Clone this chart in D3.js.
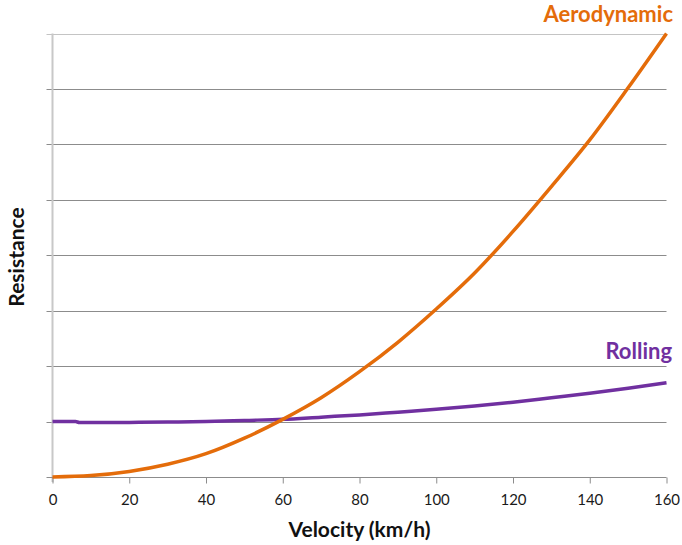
<!DOCTYPE html>
<html>
<head>
<meta charset="utf-8">
<script src="https://cdn.jsdelivr.net/npm/d3@7"></script>
<style>
  body { margin: 0; background: #fff; }
  svg { font-family: Lato, "Open Sans", sans-serif; }
</style>
</head>
<body>
<div id="chart-container"></div>
<script>
// velocity in km/h, resistance in arbitrary units (8 grid steps)
const velocity = [0, 10, 20, 30, 40, 50, 60, 70, 80, 90, 100, 110, 120, 130, 140, 150, 160];
const aerodynamic = [0, 0.025, 0.1, 0.23, 0.42, 0.7, 1.04, 1.43, 1.9, 2.43, 3.03, 3.68, 4.43, 5.24, 6.08, 7.02, 8.0];
const rollingVelocity = [0, 6, 7, 20, 30, 40, 50, 60, 70, 80, 90, 100, 110, 120, 130, 140, 150, 160];
const rolling = [1.0, 1.0, 0.985, 0.985, 0.99, 1.0, 1.02, 1.04, 1.08, 1.12, 1.17, 1.22, 1.28, 1.35, 1.43, 1.51, 1.6, 1.7];
const xTicks = [0, 20, 40, 60, 80, 100, 120, 140, 160];
const yTicks = [0, 1, 2, 3, 4, 5, 6, 7, 8];

const w = 682;
const h = 545;
const padLeft = 52.5, padRight = 666.5, padTop = 33.5, padBottom = 477;

const svg = d3
  .select("#chart-container")
  .append("svg")
  .attr("width", w)
  .attr("height", h);

const xScale = d3.scaleLinear().domain([0, 160]).range([padLeft, padRight]);
const yScale = d3.scaleLinear().domain([0, 8]).range([padBottom, padTop]);

// horizontal gridlines
svg
  .append("g")
  .selectAll("line")
  .data(yTicks.slice(1))
  .enter()
  .append("line")
  .attr("x1", padLeft - 6)
  .attr("x2", padRight)
  .attr("y1", (d) => Math.round(yScale(d)) + 0.5)
  .attr("y2", (d) => Math.round(yScale(d)) + 0.5)
  .attr("stroke", (d) => (d === 8 ? "#c4c4c4" : "#8c8c8c"))
  .attr("stroke-width", 1);

// y axis line
svg
  .append("line")
  .attr("x1", padLeft)
  .attr("x2", padLeft)
  .attr("y1", padTop)
  .attr("y2", padBottom + 5)
  .attr("stroke", "#c8c8c8")
  .attr("stroke-width", 2);

// x axis
const xAxis = d3
  .axisBottom(xScale)
  .tickValues(xTicks)
  .tickSize(6)
  .tickPadding(11);

svg
  .append("g")
  .attr("id", "x-axis")
  .attr("transform", "translate(0," + (Math.round(padBottom) + 0.5) + ")")
  .call(xAxis)
  .call((g) => g.select(".domain").attr("stroke", "#8c8c8c").attr("d", "M" + (padLeft - 6) + ",0H" + padRight))
  .call((g) => g.selectAll(".tick line").attr("stroke", "#8c8c8c"))
  .call((g) =>
    g
      .selectAll(".tick text")
      .attr("font-size", 15)
      .attr("fill", "#1a1a1a")
      .attr("font-family", "Lato, sans-serif")
  );

// lines
const line = d3
  .line()
  .x((d) => xScale(d[0]))
  .y((d) => yScale(d[1]))
  .curve(d3.curveMonotoneX);

svg
  .append("path")
  .datum(rollingVelocity.map((v, i) => [v, rolling[i]]))
  .attr("d", line)
  .attr("fill", "none")
  .attr("stroke", "#7030a0")
  .attr("stroke-width", 3.5);

svg
  .append("path")
  .datum(velocity.map((v, i) => [v, aerodynamic[i]]))
  .attr("d", line)
  .attr("fill", "none")
  .attr("stroke", "#e46c0a")
  .attr("stroke-width", 3.5);

// series labels
svg
  .append("text")
  .attr("x", 673)
  .attr("y", 21.5)
  .attr("text-anchor", "end")
  .attr("font-size", 22)
  .attr("font-weight", "bold")
  .attr("fill", "#e46c0a")
  .text("Aerodynamic");

svg
  .append("text")
  .attr("x", 672)
  .attr("y", 359)
  .attr("text-anchor", "end")
  .attr("font-size", 22)
  .attr("font-weight", "bold")
  .attr("fill", "#7030a0")
  .text("Rolling");

// axis titles
svg
  .append("text")
  .attr("x", 359.5)
  .attr("y", 537)
  .attr("text-anchor", "middle")
  .attr("font-size", 21)
  .attr("font-weight", "bold")
  .attr("fill", "#111")
  .text("Velocity (km/h)");

svg
  .append("text")
  .attr("transform", "translate(24,257) rotate(-90)")
  .attr("text-anchor", "middle")
  .attr("font-size", 21)
  .attr("font-weight", "bold")
  .attr("fill", "#111")
  .text("Resistance");
</script>
</body>
</html>
